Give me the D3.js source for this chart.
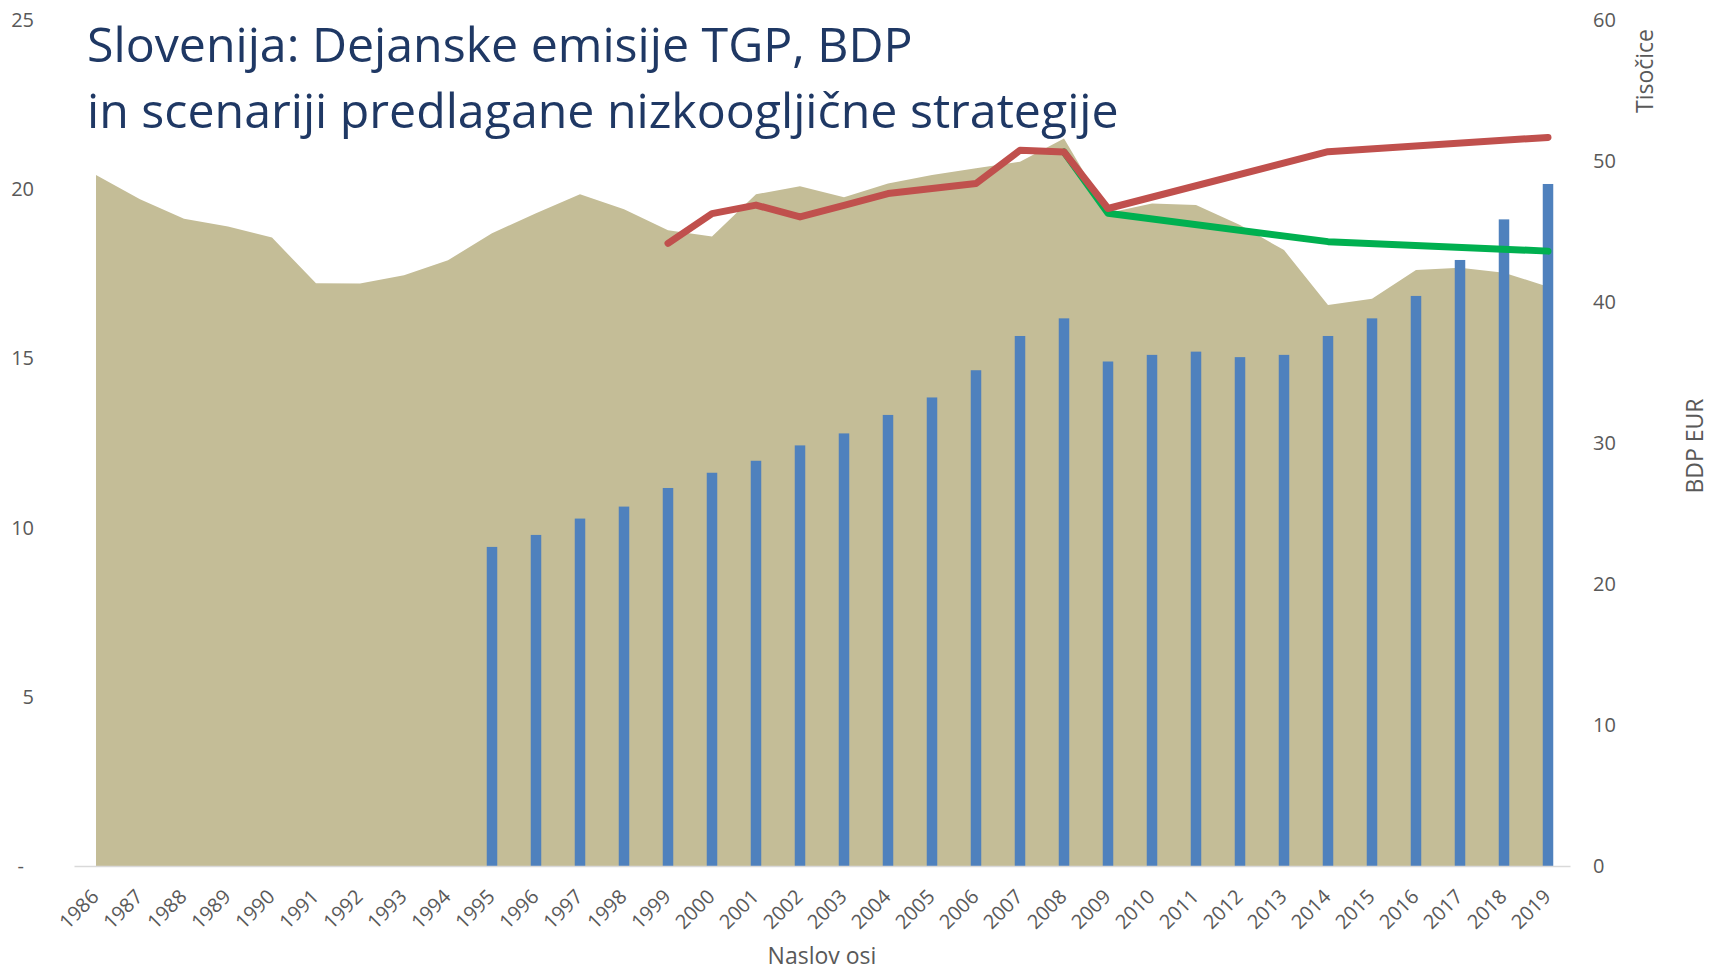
<!DOCTYPE html>
<html>
<head>
<meta charset="utf-8">
<script src="https://cdn.jsdelivr.net/npm/d3@7"></script>
<style>
  body { margin: 0; background: #fff; }
  text { font-family: "Open Sans", sans-serif; }
</style>
</head>
<body>
<div id="chart"></div>
<script>
// years on the category axis
var years = ["1986","1987","1988","1989","1990","1991","1992","1993","1994","1995",
             "1996","1997","1998","1999","2000","2001","2002","2003","2004","2005",
             "2006","2007","2008","2009","2010","2011","2012","2013","2014","2015",
             "2016","2017","2018","2019"];

// actual GHG emissions (left axis)
var emissions = [20.42, 19.70, 19.13, 18.90, 18.57, 17.22, 17.21, 17.46, 17.90, 18.70,
                 19.29, 19.85, 19.41, 18.79, 18.60, 19.85, 20.09, 19.76, 20.17, 20.42,
                 20.62, 20.81, 21.50, 19.30, 19.58, 19.53, 18.94, 18.20, 16.58, 16.76,
                 17.61, 17.68, 17.53, 17.12];

// GDP, thousands EUR (right axis)
var gdpYears = ["1995","1996","1997","1998","1999","2000","2001","2002","2003","2004",
                "2005","2006","2007","2008","2009","2010","2011","2012","2013","2014",
                "2015","2016","2017","2018","2019"];
var gdp = [22.63, 23.48, 24.64, 25.49, 26.81, 27.89, 28.74, 29.83, 30.68, 31.99,
           33.23, 35.16, 37.59, 38.84, 35.78, 36.25, 36.48, 36.09, 36.25, 37.59,
           38.84, 40.43, 42.98, 45.86, 48.37];

// scenario lines (left axis)
var redYears = ["1999","2000","2001","2002","2003","2004","2005","2006","2007","2008","2009","2014","2019"];
var redValues = [18.40, 19.28, 19.53, 19.18, 19.52, 19.87, 20.02, 20.17, 21.15, 21.10, 19.43, 21.11, 21.53];
var greenYears = ["2008","2009","2014","2019"];
var greenValues = [21.10, 19.29, 18.45, 18.17];

var leftTicks = [0, 5, 10, 15, 20, 25];
var rightTicks = [0, 10, 20, 30, 40, 50, 60];

var w = 1712, h = 973;
var top0 = 20, base = 866;

var svg = d3.select("#chart").append("svg")
  .attr("width", w)
  .attr("height", h);

var x = d3.scaleBand().domain(years).range([74, 1570]);
var yL = d3.scaleLinear().domain([0, 25]).range([base, top0]);
var yR = d3.scaleLinear().domain([0, 60]).range([base, top0]);
var cx = function(yr){ return x(yr) + x.bandwidth() / 2; };

// emissions area
var area = d3.area()
  .x(function(d, i){ return cx(years[i]); })
  .y0(yL(0))
  .y1(function(d){ return yL(d); });

svg.append("path")
  .datum(emissions)
  .attr("d", area)
  .attr("fill", "#c4bd97");

// GDP bars
var barW = 10.5;
svg.selectAll("rect.bar")
  .data(gdp)
  .enter().append("rect")
  .attr("class", "bar")
  .attr("x", function(d, i){ return cx(gdpYears[i]) - barW / 2; })
  .attr("y", function(d){ return yR(d); })
  .attr("width", barW)
  .attr("height", function(d){ return yR(0) - yR(d); })
  .attr("fill", "#4f81bd");

// bottom axis
var xAxis = svg.append("g")
  .attr("transform", "translate(0," + base + ")")
  .call(d3.axisBottom(x).tickSize(0));
xAxis.select(".domain").attr("stroke", "#d9d9d9").attr("stroke-width", 1.5);
xAxis.selectAll("text")
  .attr("x", 0).attr("y", 0).attr("dy", 0)
  .attr("transform", "translate(4,32) rotate(-45)")
  .style("text-anchor", "end")
  .attr("fill", "#595959")
  .style("font-size", "20px");

// scenario lines
var line = d3.line()
  .x(function(d){ return cx(d[0]); })
  .y(function(d){ return yL(d[1]); });

svg.append("path")
  .datum(d3.zip(greenYears, greenValues))
  .attr("d", line)
  .attr("fill", "none")
  .attr("stroke", "#00b050")
  .attr("stroke-width", 7)
  .attr("stroke-linecap", "round")
  .attr("stroke-linejoin", "round");

svg.append("path")
  .datum(d3.zip(redYears, redValues))
  .attr("d", line)
  .attr("fill", "none")
  .attr("stroke", "#c0504d")
  .attr("stroke-width", 7)
  .attr("stroke-linecap", "round")
  .attr("stroke-linejoin", "round");

// left axis
var yAxisL = svg.append("g")
  .attr("transform", "translate(37,0)")
  .call(d3.axisLeft(yL).tickValues(leftTicks).tickSize(0).tickPadding(3)
    .tickFormat(function(d){ return d === 0 ? "-\u2002" : d; }));
yAxisL.select(".domain").remove();
yAxisL.selectAll("text").attr("fill", "#595959").style("font-size", "20px");

// right axis
var yAxisR = svg.append("g")
  .attr("transform", "translate(1593,0)")
  .call(d3.axisRight(yR).tickValues(rightTicks).tickSize(0).tickPadding(0));
yAxisR.select(".domain").remove();
yAxisR.selectAll("text").attr("fill", "#595959").style("font-size", "20px");

// axis titles
svg.append("text")
  .attr("x", 822).attr("y", 964)
  .attr("text-anchor", "middle")
  .attr("fill", "#595959")
  .style("font-size", "23px")
  .text("Naslov osi");

svg.append("text")
  .attr("transform", "translate(1653,71) rotate(-90)")
  .attr("text-anchor", "middle")
  .attr("fill", "#595959")
  .style("font-size", "23px")
  .text("Tisočice");

svg.append("text")
  .attr("transform", "translate(1703,446) rotate(-90)")
  .attr("text-anchor", "middle")
  .attr("fill", "#595959")
  .style("font-size", "23px")
  .text("BDP EUR");

// title
var title = svg.append("text")
  .attr("fill", "#1f3864")
  .style("font-size", "50px");
title.append("tspan").attr("x", 87).attr("y", 62).text("Slovenija: Dejanske emisije TGP, BDP");
title.append("tspan").attr("x", 87).attr("y", 128).text("in scenariji predlagane nizkoogljične strategije");

var tw = title.select("tspan").node().getComputedTextLength();
title.style("font-size", (50 * 826 / tw) + "px");
</script>
</body>
</html>
